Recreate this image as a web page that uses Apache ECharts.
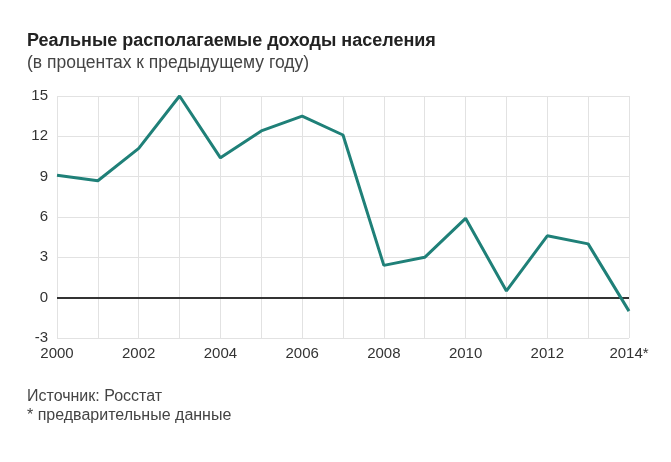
<!DOCTYPE html>
<html><head><meta charset="utf-8">
<script src="https://cdn.jsdelivr.net/npm/echarts@6/dist/echarts.min.js"></script>
<style>html,body{margin:0;padding:0;background:#fff}#c{width:671px;height:462px}</style>
</head><body><div id="c"></div>
<script>
var years = ['2000','2001','2002','2003','2004','2005','2006','2007','2008','2009','2010','2011','2012','2013','2014'];
var yearLabels = ['2000','','2002','','2004','','2006','','2008','','2010','','2012','','2014*'];
var incomeGrowth = [9.1, 8.7, 11.1, 15.0, 10.4, 12.4, 13.5, 12.1, 2.4, 3.0, 5.9, 0.5, 4.6, 4.0, -1.0];
var yTicks = [-3, 0, 3, 6, 9, 12, 15];

var ff = 'Liberation Sans, Arial, sans-serif';
var chart = echarts.init(document.getElementById('c'));
chart.setOption({
  animation: false,
  textStyle: {fontFamily: ff},
  title: [
    {text: 'Реальные располагаемые доходы населения', left: 22, top: 27,
     textStyle: {fontSize: 18, fontWeight: 'bold', color: '#222', fontFamily: ff}},
    {text: '(в процентах к предыдущему году)', left: 22, top: 49,
     textStyle: {fontSize: 17.5, fontWeight: 'normal', color: '#444', fontFamily: ff}},
    {text: 'Источник: Росстат', left: 22, top: 384,
     textStyle: {fontSize: 16, fontWeight: 'normal', color: '#444', fontFamily: ff}},
    {text: '* предварительные данные', left: 22, top: 403,
     textStyle: {fontSize: 16, fontWeight: 'normal', color: '#444', fontFamily: ff}}
  ],
  grid: {left: 57, right: 42, top: 96, bottom: 124},
  xAxis: {
    type: 'category', data: years, boundaryGap: false,
    axisLine: {show: false}, axisTick: {show: false},
    axisLabel: {interval: 0, margin: 8, fontSize: 15, color: '#333',
      formatter: function (v, i) { return yearLabels[i]; }},
    splitLine: {show: true, interval: 0, lineStyle: {color: '#e2e2e2', width: 1}}
  },
  yAxis: {
    type: 'value', min: yTicks[0], max: yTicks[yTicks.length - 1], interval: 3,
    axisLine: {show: false}, axisTick: {show: false},
    axisLabel: {margin: 9, fontSize: 15, color: '#333'},
    splitLine: {show: true, lineStyle: {color: '#e2e2e2', width: 1}}
  },
  series: [{
    type: 'line', data: incomeGrowth, symbol: 'none',
    lineStyle: {color: '#1f8078', width: 3}, z: 3,
    markLine: {silent: true, symbol: 'none', label: {show: false},
      lineStyle: {color: '#333', width: 2, type: 'solid'},
      data: [{yAxis: 0}], z: 2}
  }]
});
</script></body></html>
